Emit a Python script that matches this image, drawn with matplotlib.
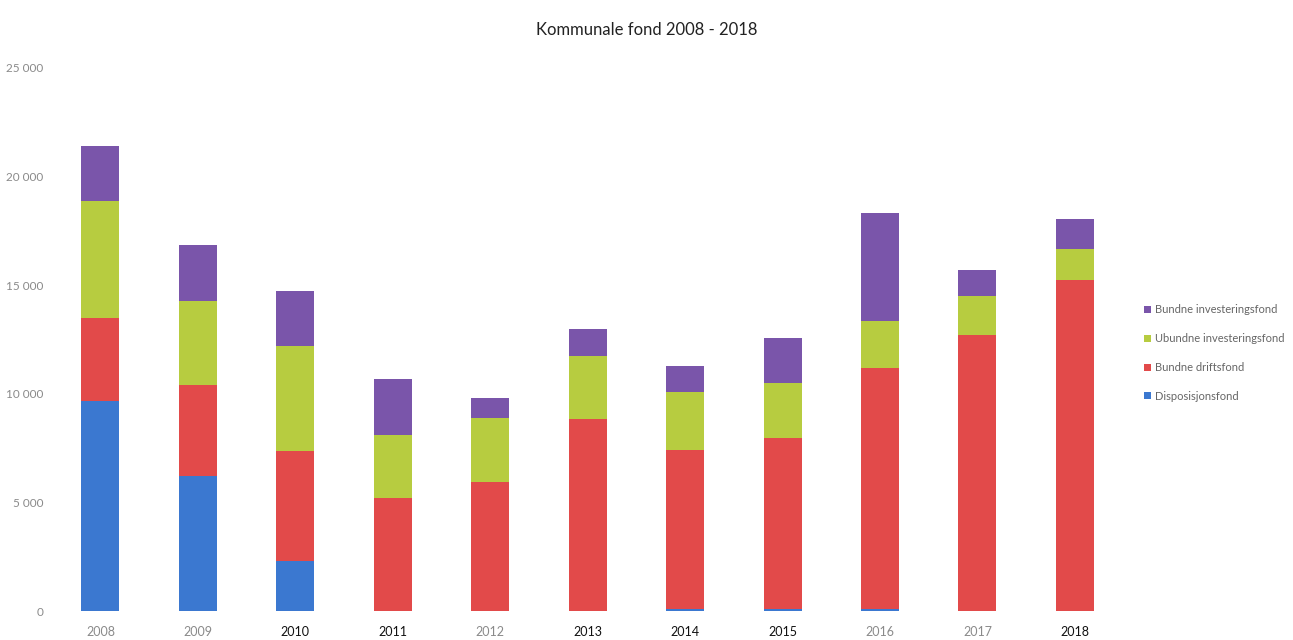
import matplotlib.pyplot as plt
import numpy as np

plt.rcParams["font.family"] = ["Lato", "DejaVu Sans"]

years = ["2008", "2009", "2010", "2011", "2012", "2013", "2014", "2015", "2016", "2017", "2018"]

# cumulative tops read as stacked totals, converted to segment heights below
disposisjon = [9660, 6200, 2300, 0, 0, 0, 80, 90, 100, 0, 0]
bundne_drift_top = [13480, 10390, 7370, 5180, 5940, 8860, 7400, 7980, 11200, 12720, 15240]
ubundne_inv_top = [18860, 14290, 12220, 8090, 8900, 11760, 10080, 10490, 13340, 14480, 16650]
bundne_inv_top = [21420, 16850, 14750, 10690, 9800, 12960, 11300, 12560, 18340, 15700, 18030]

tick_colors = ["#8a8a8a", "#8a8a8a", "#111111", "#111111", "#8a8a8a", "#111111",
               "#111111", "#111111", "#8a8a8a", "#8a8a8a", "#111111"]

disp = np.array(disposisjon)
drift = np.array(bundne_drift_top) - disp
ubundne = np.array(ubundne_inv_top) - np.array(bundne_drift_top)
bundne = np.array(bundne_inv_top) - np.array(ubundne_inv_top)

fig = plt.figure(figsize=(12.93, 6.4), dpi=100)
ax = fig.add_axes([0.040, 0.0453, 0.829, 0.8485])

x = np.arange(len(years))
w = 0.39
ax.bar(x, disp, w, color="#3B78D0", label="Disposisjonsfond")
ax.bar(x, drift, w, bottom=disp, color="#E24A4A", label="Bundne driftsfond")
ax.bar(x, ubundne, w, bottom=disp + drift, color="#B7CC40", label="Ubundne investeringsfond")
ax.bar(x, bundne, w, bottom=disp + drift + ubundne, color="#7A55AA", label="Bundne investeringsfond")

ax.set_xlim(-0.5, len(years) - 0.5)
ax.set_ylim(0, 25000)
ax.set_yticks(range(0, 25001, 5000))
ax.set_yticklabels([f"{v:,}".replace(",", " ") for v in range(0, 25001, 5000)],
                   fontsize=8.5, color="#8a8a8a")
ax.set_xticks(x)
ax.set_xticklabels(years, fontsize=9)
for lbl, c in zip(ax.get_xticklabels(), tick_colors):
    lbl.set_color(c)
ax.tick_params(length=0)
ax.tick_params(axis="x", pad=11)
ax.tick_params(axis="y", pad=6)
for s in ax.spines.values():
    s.set_visible(False)

fig.suptitle("Kommunale fond 2008 - 2018", x=0.5, y=0.965, fontsize=12, color="#222222")

handles, labels = ax.get_legend_handles_labels()
leg = fig.legend(handles[::-1], labels[::-1], loc="upper left", bbox_to_anchor=(0.877, 0.54),
                 frameon=False, fontsize=8, handlelength=0.6, handleheight=0.6,
                 handletextpad=0.4, labelspacing=1.6)
for t in leg.get_texts():
    t.set_color("#666666")

fig.savefig("out.png", dpi=100)
